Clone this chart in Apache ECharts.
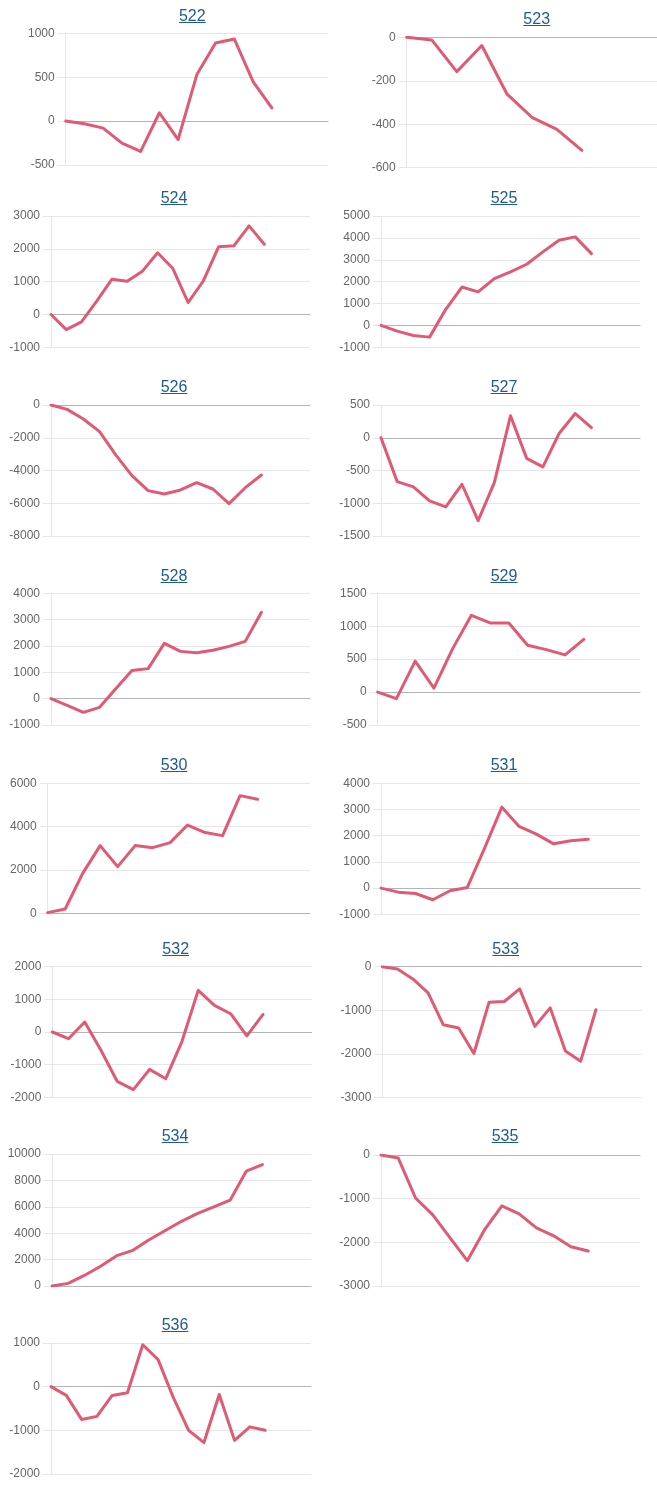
<!DOCTYPE html>
<html>
<head>
<meta charset="utf-8">
<style>
html,body{margin:0;padding:0;background:#fff;}
#wrap{position:relative;width:657px;height:1493px;overflow:hidden;}
#chart{position:absolute;left:0;top:0;width:657px;height:1493px;}
.ttl{position:absolute;font-family:"Liberation Sans",Arial,sans-serif;font-size:16px;line-height:16px;color:#1f5b8e;text-decoration:underline;transform:translateX(-50%);white-space:nowrap;}
</style>
<script src="https://cdn.jsdelivr.net/npm/echarts@6/dist/echarts.min.js"></script>
</head>
<body>
<div id="wrap"><div id="chart"></div></div>
<script>
// ---- data ----
const panelTitles = ['522','523','524','525','526','527','528','529','530','531','532','533','534','535','536'];

const s522 = [0, -30, -80, -250, -345, 95, -210, 530, 890, 935, 450, 150];
const s523 = [0, -12, -158, -38, -260, -368, -424, -520];
const s524 = [0, -460, -225, 405, 1075, 1015, 1320, 1880, 1400, 365, 1025, 2060, 2090, 2700, 2140];
const s525 = [0, -260, -460, -535, 735, 1755, 1530, 2140, 2445, 2795, 3360, 3895, 4045, 3280];
const s526 = [0, -265, -855, -1630, -3050, -4315, -5230, -5435, -5190, -4745, -5130, -6025, -5050, -4275];
const s527 = [0, -670, -750, -965, -1055, -710, -1265, -685, 335, -315, -445, 65, 370, 155];
const s528 = [0, -255, -520, -330, 380, 1065, 1140, 2100, 1795, 1745, 1835, 1985, 2175, 3280];
const s529 = [0, -100, 470, 60, 660, 1165, 1050, 1050, 710, 645, 565, 800];
const s530 = [30, 200, 1845, 3125, 2155, 3125, 3030, 3260, 4075, 3725, 3585, 5430, 5260];
const s531 = [0, -155, -205, -445, -100, 25, 1525, 3090, 2355, 2060, 1690, 1805, 1860];
const s532 = [0, -205, 305, -560, -1510, -1765, -1145, -1430, -285, 1275, 815, 560, -120, 540];
const s533 = [0, -55, -280, -600, -1335, -1410, -1995, -815, -800, -510, -1370, -945, -1935, -2170, -990];
const s534 = [0, 200, 800, 1500, 2300, 2700, 3500, 4200, 4900, 5500, 6000, 6500, 8700, 9200];
const s535 = [0, -70, -985, -1370, -1900, -2420, -1710, -1165, -1350, -1670, -1850, -2100, -2200];
const s536 = [0, -200, -750, -680, -200, -140, 960, 620, -250, -1000, -1280, -180, -1230, -920, -1000];

const seriesList = [s522,s523,s524,s525,s526,s527,s528,s529,s530,s531,s532,s533,s534,s535,s536];

// y ticks: [min, max, step]
const yTicks = [
  [-500, 1000, 500], [-600, 0, 200], [-1000, 3000, 1000], [-1000, 5000, 1000],
  [-8000, 0, 2000], [-1500, 500, 500], [-1000, 4000, 1000], [-500, 1500, 500],
  [0, 6000, 2000], [-1000, 4000, 1000], [-2000, 2000, 1000], [-3000, 0, 1000],
  [0, 10000, 2000], [-3000, 0, 1000], [-2000, 1000, 1000]
];
// empty trailing category slots on each x axis
const X_PAD = 3;

// ---- layout (px): [left, top, width, height, titleCenterX, titleBaseline] ----
const layout = [
  [65.7, 33.3, 262.3, 131.7, 192.3, 21.7],
  [406.7, 37.3, 265.2, 130.4, 536.7, 24.5],
  [51, 216, 259, 131.3, 174, 203.3],
  [381, 216, 259, 131.3, 504, 203.3],
  [51, 405, 259, 131, 174, 392.3],
  [381, 405, 259, 131, 504, 392.3],
  [51, 593.3, 259, 131.7, 174, 581.7],
  [377.7, 593.3, 262.3, 131.7, 504, 581.7],
  [47.7, 783.3, 262.3, 130, 174, 770.7],
  [381, 783.3, 259, 131, 504, 770.7],
  [52.3, 966.7, 259.4, 130.6, 175.7, 954],
  [382.3, 966.7, 259.4, 130.6, 505.7, 954],
  [52, 1154, 259, 132, 175, 1141.5],
  [381, 1155, 259, 131, 505, 1141.5],
  [51, 1343, 260, 131, 175, 1330.5]
];

const LINE_COLOR = '#e05a74';
const GRID_COLOR = '#e6e6e6';
const ZERO_COLOR = '#b4b4b4';

const grids = [], xAxes = [], yAxes = [], series = [];
seriesList.forEach((vals, i) => {
  const L = layout[i];
  grids.push({left: L[0], top: L[1], width: L[2], height: L[3], containLabel: false});
  const cats = Array.from({length: vals.length + X_PAD}, (_, k) => String(k + 1));
  xAxes.push({
    type: 'category', gridIndex: i, data: cats, boundaryGap: false,
    axisLabel: {show: false}, axisTick: {show: false},
    axisLine: {show: true, onZero: true, lineStyle: {color: ZERO_COLOR, width: 1}},
    splitLine: {show: false}
  });
  const t = yTicks[i];
  yAxes.push({
    type: 'value', gridIndex: i, min: t[0], max: t[1], interval: t[2],
    axisLine: {show: true, lineStyle: {color: GRID_COLOR}},
    axisTick: {show: true, length: 8, lineStyle: {color: GRID_COLOR}},
    axisLabel: {color: '#666', fontSize: 12, margin: 11, fontFamily: '"Liberation Sans", Arial, sans-serif',
      formatter: v => String(v)},
    splitLine: {show: true, lineStyle: {color: GRID_COLOR, width: 1}}
  });
  series.push({
    type: 'line', xAxisIndex: i, yAxisIndex: i, data: vals,
    showSymbol: false, smooth: false, silent: true,
    lineStyle: {color: LINE_COLOR, width: 3, join: 'round', cap: 'round'}
  });

  const a = document.createElement('a');
  a.className = 'ttl';
  a.href = '#';
  a.textContent = panelTitles[i];
  a.style.left = L[4] + 'px';
  a.style.top = (L[5] - 13.5) + 'px';
  document.getElementById('wrap').appendChild(a);
});

const chart = echarts.init(document.getElementById('chart'), null, {renderer: 'canvas'});
chart.setOption({
  animation: false,
  backgroundColor: '#fff',
  grid: grids, xAxis: xAxes, yAxis: yAxes, series: series
});
</script>
</body>
</html>
